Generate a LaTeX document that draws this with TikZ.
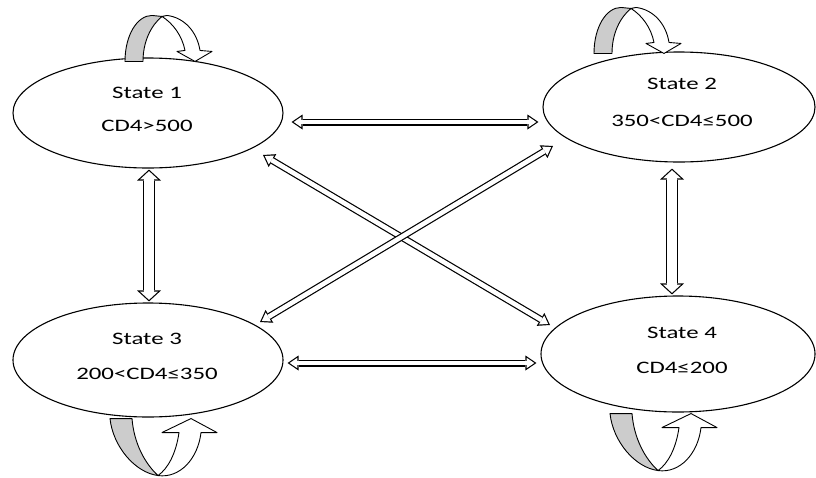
\documentclass[tikz,border=0pt]{standalone}
\usepackage{fontspec}
\newfontfamily\statefont[FakeStretch=1.42]{Carlito}
\usetikzlibrary{shapes.geometric,arrows.meta,calc}
\begin{document}
\begin{tikzpicture}[x=1pt,y=-1pt,
  state/.style={draw, line width=1.1pt, ellipse, inner sep=0pt},
  lbl/.style={font=\statefont\fontsize{17.5}{20}\selectfont, inner sep=0pt, anchor=base},
  hout/.style={line width=7pt, {Triangle[length=11pt,width=15pt,line width=0pt]}-{Triangle[length=11pt,width=15pt,line width=0pt]}},
  hin/.style={white, line width=4.6pt, {Triangle[length=7.67pt,width=10.46pt,line width=0pt]}-{Triangle[length=7.67pt,width=10.46pt,line width=0pt]}, shorten <=2.13pt, shorten >=2.13pt},
  vout/.style={line width=12pt, {Triangle[length=11pt,width=24pt,line width=0pt]}-{Triangle[length=11pt,width=24pt,line width=0pt]}},
  vin/.style={white, line width=9.6pt, {Triangle[length=8.17pt,width=17.83pt,line width=0pt]}-{Triangle[length=8.17pt,width=17.83pt,line width=0pt]}, shorten <=1.63pt, shorten >=1.63pt},
  loopline/.style={draw=black, line width=0.9pt, line join=round},
  toploop/.pic={
    \filldraw[loopline, fill=black!20] (0,0) .. controls (0,-26) and (12,-46) .. (27,-46) -- (37,-45) .. controls (26,-36) and (18,-20) .. (18,0) -- cycle;
    \filldraw[loopline, fill=white] (37,-45) -- (42,-46) .. controls (59,-44) and (72,-30) .. (75,-11) -- (87,-10) -- (70,0) -- (52,-10) -- (60,-11) .. controls (57,-26) and (48,-38) .. (37,-45) -- cycle;
  },
  botloop/.pic={
    \filldraw[loopline, fill=black!20] (0,0) .. controls (3,28) and (25,54) .. (48,57) .. controls (35,45) and (24,25) .. (22,0) -- cycle;
    \filldraw[loopline, fill=white] (48,57) .. controls (70,60) and (88,40) .. (91,14) -- (107,14) -- (81,0) -- (52,14) -- (69,14) .. controls (66,35) and (58,50) .. (48,57) -- cycle;
  }
]
\useasboundingbox (0,0) rectangle (816,477);
\fill[white] (0,0) rectangle (816,477);

% states
\node[state, minimum width=270pt, minimum height=110pt] (s1) at (148,113) {};
\node[state, minimum width=272pt, minimum height=110pt] (s2) at (679,107) {};
\node[state, minimum width=270pt, minimum height=114pt] (s3) at (148,360) {};
\node[state, minimum width=274pt, minimum height=116pt] (s4) at (678,354) {};

% labels
\node[lbl] (t1a) at ($(s1.center)+(-1,-15)$) {State 1};
\node[lbl] (t1b) at ($(s1.center)+(-1,18)$) {CD4>500};
\node[lbl] (t2a) at ($(s2.center)+(3,-18)$) {State 2};
\node[lbl] (t2b) at ($(s2.center)+(3,19)$) {350<CD4≤500};
\node[lbl] (t3a) at ($(s3.center)+(-1,-16)$) {State 3};
\node[lbl] (t3b) at ($(s3.center)+(-1,19)$) {200<CD4≤350};
\node[lbl] (t4a) at ($(s4.center)+(4,-16)$) {State 4};
\node[lbl] (t4b) at ($(s4.center)+(4,19)$) {CD4≤200};

% connector end points tied to the states
\coordinate (h1a) at ($(s1.east)+(8,9)$);
\coordinate (h1b) at ($(s2.west)+(-4,15)$);
\coordinate (h2a) at ($(s3.east)+(4,3)$);
\coordinate (h2b) at ($(s4.west)+(-4,9)$);
\coordinate (v1a) at ($(s1.south)+(1,1)$);
\coordinate (v1b) at ($(s3.north)+(1,-1)$);
\coordinate (v2a) at ($(s2.south)+(-7,6)$);
\coordinate (v2b) at ($(s4.north)+(-6,-1)$);
\coordinate (d1a) at ($(s1.center)+(115,42)$);
\coordinate (d1b) at ($(s4.center)+(-128,-29)$);
\coordinate (d2a) at ($(s3.center)+(112,-38)$);
\coordinate (d2b) at ($(s2.center)+(-126,39)$);

% double arrows
\draw[hout] (h1a) -- (h1b);
\draw[hin]  (h1a) -- (h1b);
\draw[hout] (h2a) -- (h2b);
\draw[hin]  (h2a) -- (h2b);
\draw[vout] (v1a) -- (v1b);
\draw[vin]  (v1a) -- (v1b);
\draw[vout] (v2a) -- (v2b);
\draw[vin]  (v2a) -- (v2b);
\draw[hout] (d1a) -- (d1b);
\draw[hin]  (d1a) -- (d1b);
\draw[hout] (d2a) -- (d2b);
\draw[hin]  (d2a) -- (d2b);

% self loops
\pic (l1) at ($(s1.north)+(-23,4)$) {toploop};
\pic (l2) at ($(s2.north)+(-85,2)$) {toploop};
\pic (l3) at ($(s3.south)+(-38,1)$) {botloop};
\pic (l4) at ($(s4.south)+(-68,1)$) {botloop};
\end{tikzpicture}
\end{document}
